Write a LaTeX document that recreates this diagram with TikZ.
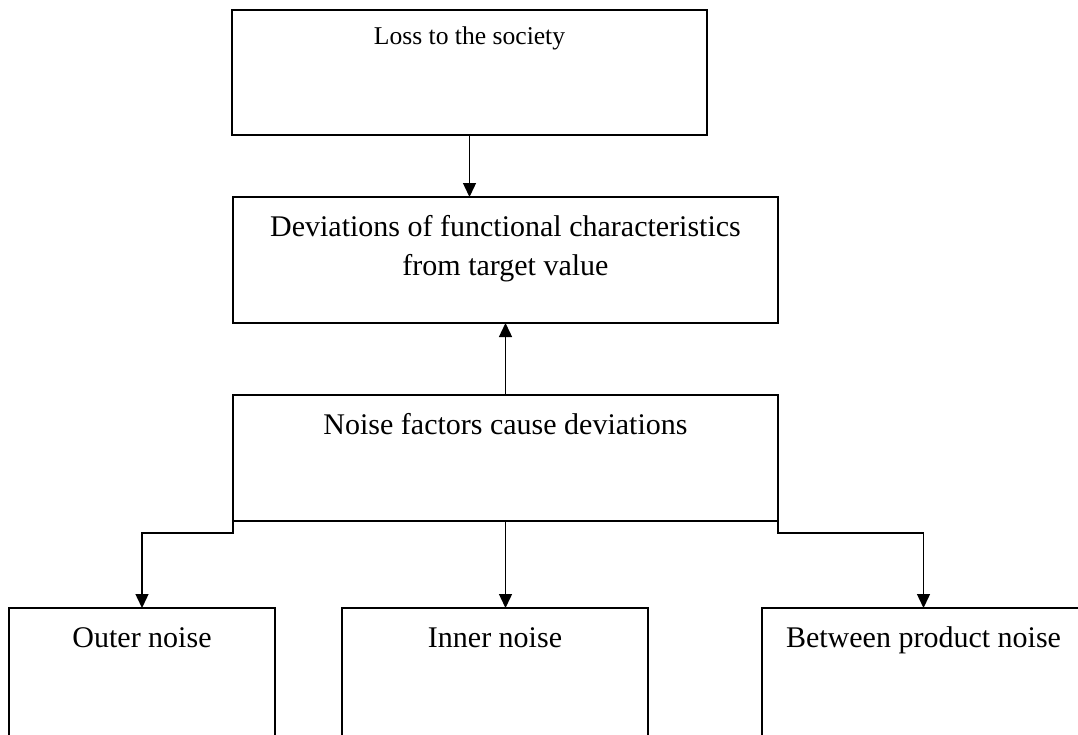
\documentclass[tikz,border=0pt]{standalone}
\usepackage{fontspec}
\setmainfont{Liberation Serif}
\usetikzlibrary{arrows.meta,calc}
\begin{document}
\begin{tikzpicture}[x=1pt,y=-1pt,
  box/.style={draw, line width=1.5pt, anchor=north west, inner sep=0pt, outer sep=0pt},
  txt/.style={anchor=base, inner sep=0pt, font=\fontsize{30}{39}\selectfont},
  smalltxt/.style={anchor=base, inner sep=0pt, font=\fontsize{25.6}{31}\selectfont},
  arr/.style={-{Triangle[length=14pt,width=13pt]}, line width=1.4pt}]
\useasboundingbox (0,0) rectangle (1078,734);
\clip (0,0) rectangle (1078,734);
% boxes
\node[box, minimum width=475pt, minimum height=125pt] (loss) at (232,10) {};
\node[box, minimum width=545pt, minimum height=126pt] (dev) at (233,197) {};
\node[box, minimum width=545pt, minimum height=126pt] (noise) at (233,395) {};
\node[box, minimum width=266pt, minimum height=200pt] (outer) at (9,608) {};
\node[box, minimum width=306pt, minimum height=200pt] (inner) at (342,608) {};
\node[box, minimum width=323pt, minimum height=200pt] (btw) at (762,608) {};
% texts
\node[smalltxt] (losst) at ($(loss.north)+(0,34)$) {Loss to the society};
\node[txt] (devt1) at ($(dev.north)+(0,39)$) {Deviations of functional characteristics};
\node[txt] (devt2) at ($(dev.north)+(0,78)$) {from target value};
\node[txt] (noiset) at ($(noise.north)+(0,39)$) {Noise factors cause deviations};
\node[txt] (outert) at ($(outer.north)+(0,39)$) {Outer noise};
\node[txt] (innert) at ($(inner.north)+(0,39)$) {Inner noise};
\node[txt] (btwt) at ($(btw.north)+(0,39)$) {Between product noise};
% connectors
\draw[arr] (loss.south) -- (loss.south |- dev.north);
\draw[arr] (noise.north) -- (dev.south);
\draw[arr] (noise.west) -- ++(0,75) -| (outer.north);
\draw[arr] (noise.east) -- ++(0,75) -| (btw.north);
\draw[arr] (noise.south) -- (noise.south |- inner.north);
\end{tikzpicture}
\end{document}
